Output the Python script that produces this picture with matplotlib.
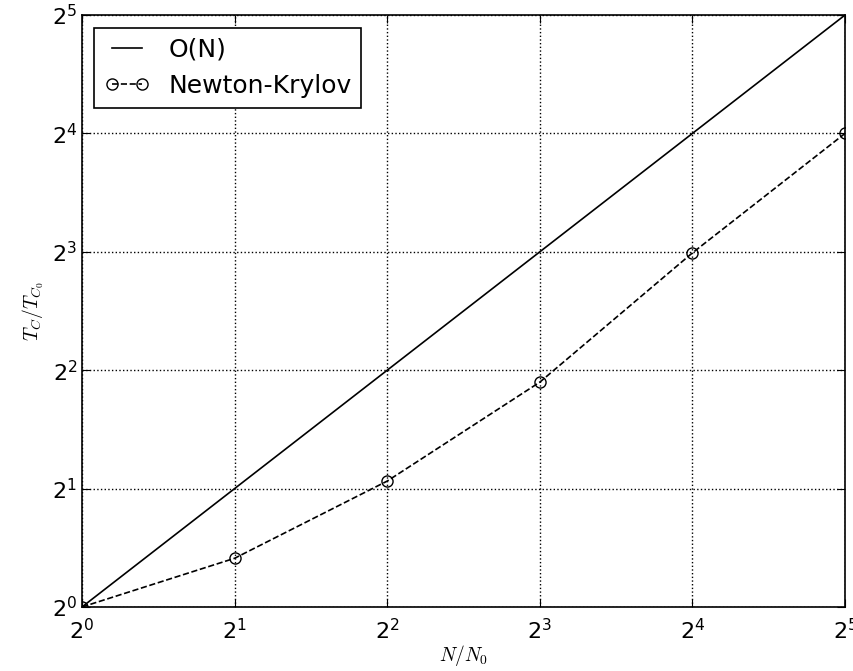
import numpy as np
import matplotlib
matplotlib.use('Agg')
import matplotlib.pyplot as plt

N = [1, 2, 4, 8, 16, 32]
linear = [1, 2, 4, 8, 16, 32]
newton_krylov = [1, 1.33, 2.09, 3.73, 7.95, 16.0]

plt.rcParams['mathtext.fontset'] = 'cm'
plt.rcParams['xtick.direction'] = 'in'
plt.rcParams['ytick.direction'] = 'in'

fig = plt.figure(figsize=(8.54, 6.71), dpi=100)
ax = fig.add_axes([0.096, 0.0954, 0.8935, 0.8822])

ax.plot(N, linear, 'k-', lw=1.2, label='O(N)')
ax.plot(N, newton_krylov, 'k--', lw=1.2, marker='o', mfc='none', mec='k',
        ms=8, mew=1, label='Newton-Krylov')

ax.set_xscale('log', base=2)
ax.set_yscale('log', base=2)
ax.set_xlim(1, 32)
ax.set_ylim(1, 32)
ax.minorticks_off()
ax.tick_params(labelsize=16, length=6, top=True, right=True)
ax.tick_params(axis='x', pad=8)
ax.grid(True, color='k', linestyle=':', lw=1)
for s in ax.spines.values():
    s.set_linewidth(1.2)

ax.set_xlabel('$N/N_0$', fontsize=14, labelpad=0)
ax.set_ylabel('$T_C/T_{C_0}$', fontsize=14)

leg = ax.legend(loc='upper left', fontsize=18, fancybox=False, numpoints=2,
                edgecolor='k', framealpha=1, handlelength=1.8,
                borderaxespad=0.5, handletextpad=0.75)
leg.get_frame().set_linewidth(1.2)

fig.savefig('out.png', dpi=100)
